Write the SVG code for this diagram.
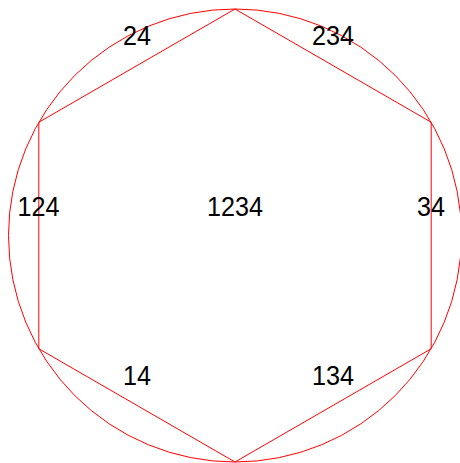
<svg xmlns="http://www.w3.org/2000/svg" width="460" height="463" viewBox="0 0 460 463">
<style>
.e{fill:none;stroke:#ff0000;stroke-width:1}
.t{font-family:"Liberation Sans",Arial,sans-serif;font-size:28px;fill:#000;text-anchor:middle}
</style>
<rect width="460" height="463" fill="#fff"/>
<g id="connectors">
<circle class="e" cx="235" cy="235.5" r="226.5"/>
<polygon class="e" points="235,9 431.2,122.25 431.2,348.75 235,462 38.8,348.75 38.8,122.25"/>
</g>
<g id="n24"><text class="t" x="137" y="45" textLength="28" lengthAdjust="spacingAndGlyphs">24</text></g>
<g id="n234"><text class="t" x="333" y="45" textLength="42" lengthAdjust="spacingAndGlyphs">234</text></g>
<g id="n124"><text class="t" x="38.5" y="216" textLength="42" lengthAdjust="spacingAndGlyphs">124</text></g>
<g id="n1234"><text class="t" x="235" y="216" textLength="56" lengthAdjust="spacingAndGlyphs">1234</text></g>
<g id="n34"><text class="t" x="431" y="216" textLength="28" lengthAdjust="spacingAndGlyphs">34</text></g>
<g id="n14"><text class="t" x="137" y="385" textLength="28" lengthAdjust="spacingAndGlyphs">14</text></g>
<g id="n134"><text class="t" x="333" y="385" textLength="42" lengthAdjust="spacingAndGlyphs">134</text></g>
</svg>
